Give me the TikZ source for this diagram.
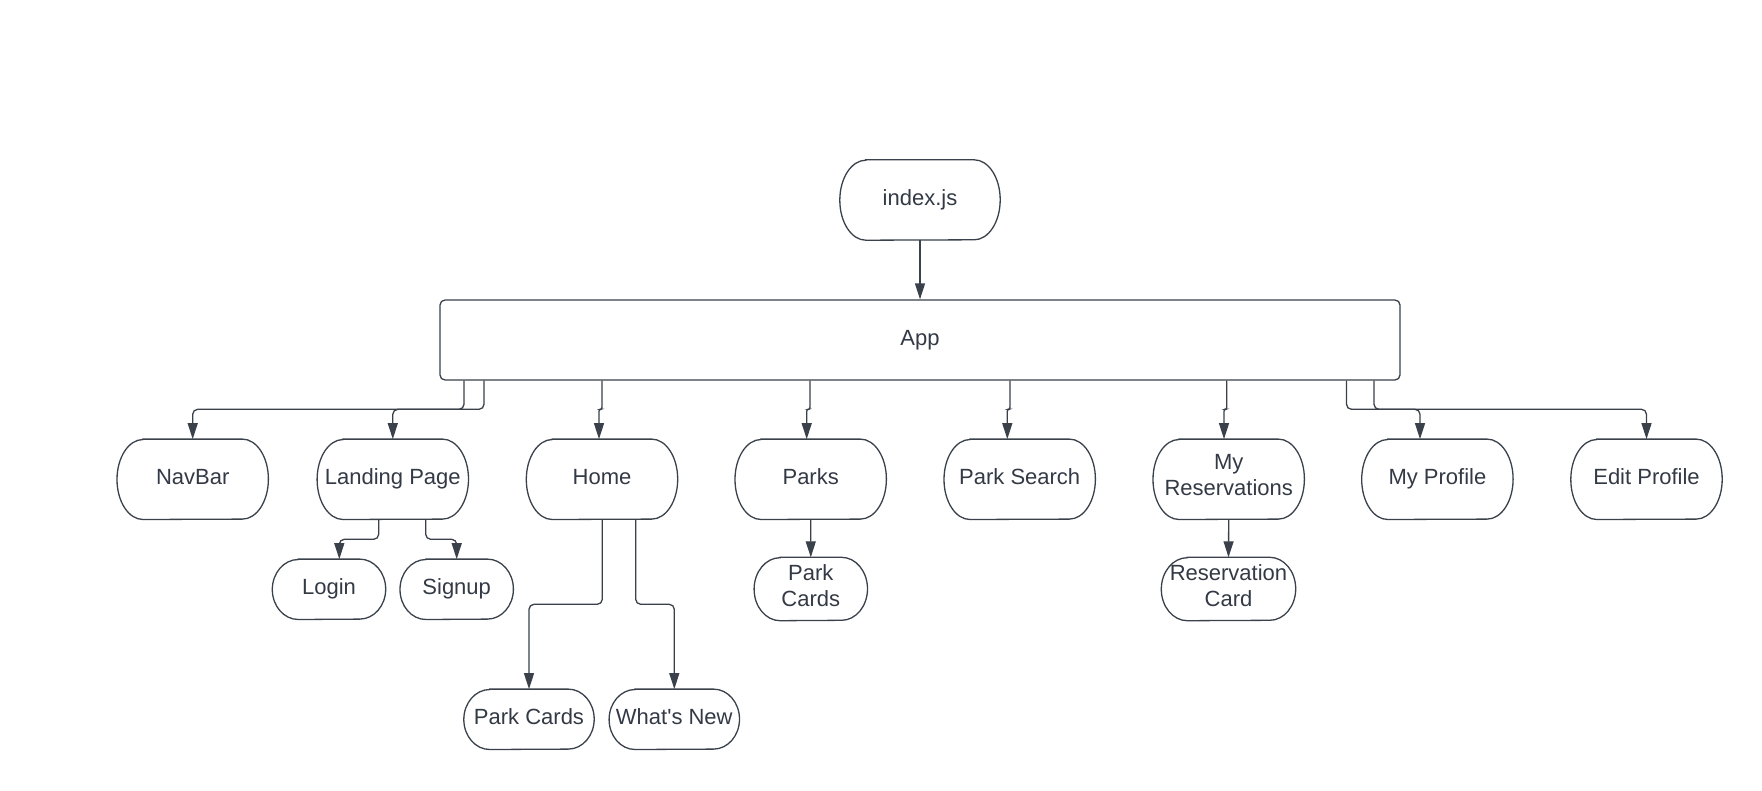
\documentclass[tikz,border=0pt]{standalone}
\usepackage{fontspec}
\setmainfont{Liberation Sans}[Ligatures=TeXOff]
\usetikzlibrary{arrows.meta,calc}
\definecolor{lc}{RGB}{58,65,74}
\definecolor{tc}{RGB}{51,58,69}
\newcommand\termbox[5]{%
  \node[termtext, minimum width=#3pt, minimum height=#4pt] (#1) at (#2) {#5};
  \draw[outline] ($(#1.north west)+(26pt,0pt)$) -- ($(#1.north east)+(-26pt,0pt)$)
     arc[start angle=90, end angle=-90, x radius=26pt, y radius=0.5*#4pt]
     -- ($(#1.south west)+(26pt,0pt)$)
     arc[start angle=270, end angle=90, x radius=26pt, y radius=0.5*#4pt] -- cycle;
}
\begin{document}
\begin{tikzpicture}[x=1pt,y=-1pt,
  outline/.style={draw=lc,line width=1.3pt},
  termtext/.style={text=tc,font=\fontsize{22}{26}\selectfont,align=center,inner sep=0pt,
    execute at begin node=\strut, execute at end node=\strut},
  conn/.style={draw=lc,line width=1.3pt,rounded corners=5pt,-{Triangle[length=16pt,width=10pt]}},
  jog/.style={draw=lc,line width=1.3pt,rounded corners=2pt,-{Triangle[length=16pt,width=10pt]}}]
\useasboundingbox[fill=white] (0,0) rectangle (1762,790);

% top
\termbox{idx}{920,200}{160}{80}{index.js}
\node[outline, rounded corners=5pt, minimum width=960pt, minimum height=80pt,
      text=tc, font=\fontsize{22}{26}\selectfont,
      execute at begin node=\strut] (app) at (920,340) {App};

% first row
\termbox{nav}{192.7,479.3}{151}{80}{NavBar}
\termbox{lp}{392.8,479.3}{151}{80}{Landing Page}
\termbox{home}{602,479.3}{151}{80}{Home}
\termbox{parks}{810.7,479.3}{151}{80}{Parks}
\termbox{ps}{1019.7,479.3}{151}{80}{Park Search}
\termbox{mr}{1228.7,479.3}{151}{80}{My\\Reservations}
\termbox{mp}{1437.4,479.3}{151}{80}{My Profile}
\termbox{ep}{1646.5,479.3}{151}{80}{Edit Profile}

% second row
\termbox{login}{329,589.3}{113}{60}{Login}
\termbox{signup}{456.7,589.3}{113}{60}{Signup}
\termbox{pcA}{810.8,589}{113}{63}{Park\\Cards}
\termbox{rc}{1228.5,589}{134}{63}{Reservation\\Card}

% third row
\termbox{pcB}{529,719.3}{130}{60}{Park Cards}
\termbox{wn}{674.3,719.3}{130}{60}{What's New}

% connectors
\draw[conn] (idx.south) -- (app.north);
\draw[conn] (464,0 |- app.south) |- (192.7,409.3) -- (nav.north);
\draw[conn] (484,0 |- app.south) |- (392.8,409.3) -- (lp.north);
\draw[jog] (602,0 |- app.south) -- (602,409.3) -- (599,409.3) -- (599,0 |- home.north);
\draw[jog] (810,0 |- app.south) -- (810,409.3) -- (806.7,409.3) -- (806.7,0 |- parks.north);
\draw[jog] (1010,0 |- app.south) -- (1010,409.3) -- (1007.3,409.3) -- (1007.3,0 |- ps.north);
\draw[jog] (1226.7,0 |- app.south) -- (1226.7,409.3) -- (1224,409.3) -- (1224,0 |- mr.north);
\draw[conn] (1346.5,0 |- app.south) |- (1420,409.3) -- (1420,0 |- mp.north);
\draw[conn] (1374,0 |- app.south) |- (1646.5,409.3) -- (ep.north);

\draw[conn] (378.7,0 |- lp.south) |- (339.3,539.3) -- (339.3,0 |- login.north);
\draw[conn] (425.7,0 |- lp.south) |- (456.7,539.3) -- (signup.north);
\draw[conn] (parks.south) -- (pcA.north);
\draw[conn] (mr.south) -- (rc.north);
\draw[conn] (602.3,0 |- home.south) |- (529,604.3) -- (pcB.north);
\draw[conn] (635.7,0 |- home.south) |- (674.3,604.3) -- (wn.north);
\end{tikzpicture}
\end{document}
